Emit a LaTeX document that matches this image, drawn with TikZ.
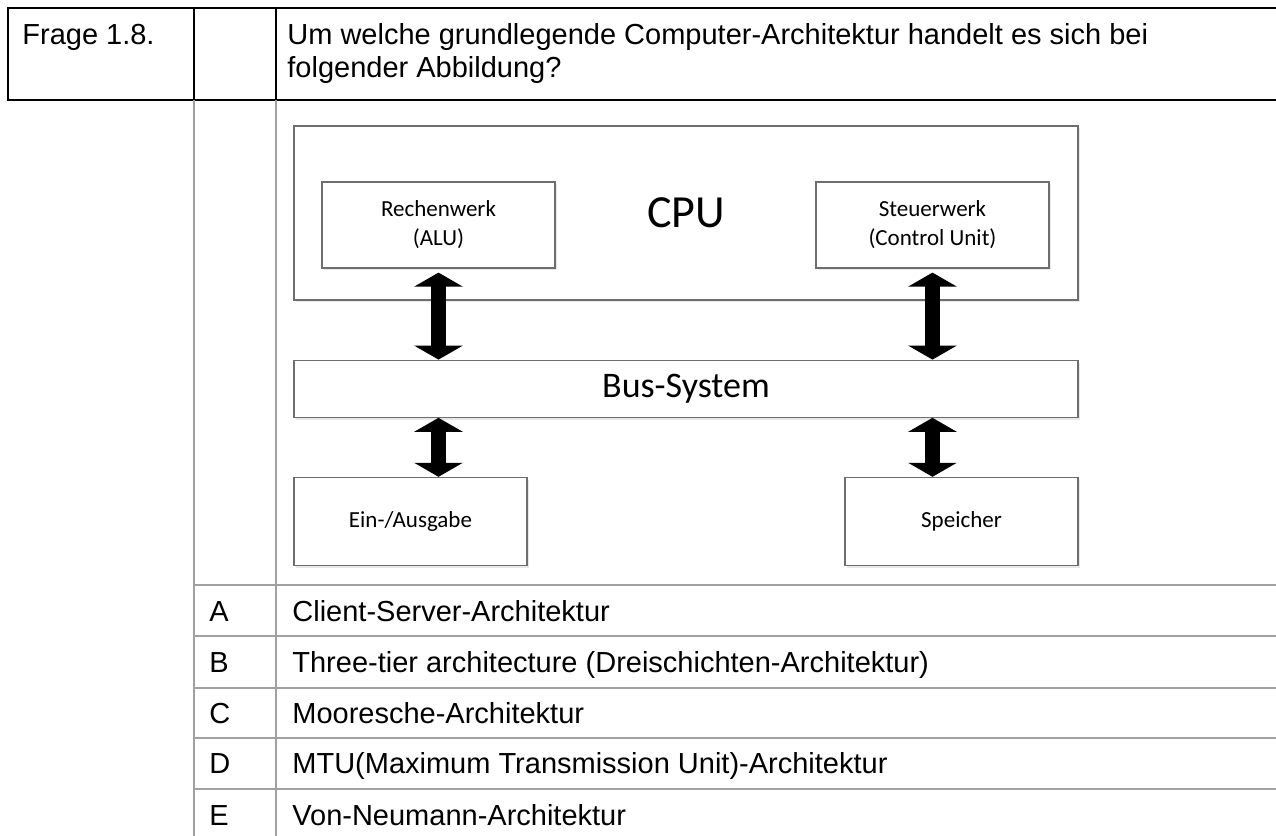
\documentclass[tikz,border=0pt]{standalone}
\usepackage{fontspec}
\setmainfont{Liberation Sans}
\newfontfamily\diagfont{Carlito}
\usetikzlibrary{arrows.meta,positioning,shadows}
\definecolor{boxgray}{HTML}{6E6E6E}
\definecolor{rulegray}{HTML}{A0A0A0}

\begin{document}
\begin{tikzpicture}[
        x=0.5pt, y=-0.5pt,
        unit/.style={draw=boxgray, line width=0.6pt, fill=white, inner sep=0pt, align=center,
            font=\diagfont\fontsize{11.5pt}{14.5pt}\selectfont,
            drop shadow={shadow xshift=1.2pt, shadow yshift=-1.2pt, opacity=0.18}},
        bigunit/.style={unit, minimum width=392pt},
        smallunit/.style={unit, minimum width=116.5pt, minimum height=43pt},
        busarrow/.style={line width=7.5pt, {Triangle[width=24pt,length=7pt]}-{Triangle[width=24pt,length=7pt]}},
        tableframe/.style={line width=1pt},
        tablerule/.style={draw=rulegray, line width=0.75pt},
        cell/.style={anchor=base west, inner sep=0pt, font=\fontsize{14.5pt}{16.5pt}\selectfont}
    ]
    \useasboundingbox (0,0) rectangle (1276,836);

    % question header
    \draw[tableframe] (1276,8) -- (8,8) -- (8,100) -- (1276,100)
        (194,8) -- (194,100) (276,8) -- (276,100);
    \node[cell] (qno) at (22,44) {Frage 1.8.};
    \node[cell, align=left] (question) at (287,77) {Um welche grundlegende Computer-Architektur handelt es sich bei\\folgender Abbildung?};

    % answer grid
    \draw[tablerule] (194,100) -- (194,836) (276,100) -- (276,836);
    \draw[tablerule] (194,585) -- (1276,585) (194,636) -- (1276,636) (194,688) -- (1276,688)
        (194,738) -- (1276,738) (194,789) -- (1276,789);

    % diagram
    \node[bigunit, minimum height=87pt, font=\diagfont\fontsize{23pt}{27pt}\selectfont] (cpu) at (686,213) {CPU};
    \node[smallunit, below right=28pt and 14pt of cpu.north west] (alu) {Rechenwerk\\(ALU)};
    \node[smallunit, below left=28pt and 14.5pt of cpu.north east] (cu) {Steuerwerk\\(Control Unit)};
    \node[bigunit, minimum height=28.5pt, below=29.5pt of cpu, font=\diagfont\fontsize{18pt}{22pt}\selectfont] (bus) {Bus-System};
    \node[smallunit, minimum height=44pt, below right=29.5pt and 0pt of bus.south west] (io) {Ein-/Ausgabe};
    \node[smallunit, minimum height=44pt, below left=29.5pt and 0pt of bus.south east] (mem) {Speicher};

    \draw[busarrow, shorten <=2pt] (alu.south) -- (alu.south |- bus.north);
    \draw[busarrow, shorten <=2pt] (cu.south) -- (cu.south |- bus.north);
    \draw[busarrow] (bus.south -| alu.south) -- (io.north -| alu.south);
    \draw[busarrow] (bus.south -| cu.south) -- (mem.north -| cu.south);

    % answers
    \node[cell] (optA) at (209,621) {A};
    \node[cell] (ansA) at (292,621) {Client-Server-Architektur};
    \node[cell] (optB) at (209,672) {B};
    \node[cell] (ansB) at (292,672) {Three-tier architecture (Dreischichten-Architektur)};
    \node[cell] (optC) at (209,723) {C};
    \node[cell] (ansC) at (292,723) {Mooresche-Architektur};
    \node[cell] (optD) at (209,773) {D};
    \node[cell] (ansD) at (292,773) {MTU(Maximum Transmission Unit)-Architektur};
    \node[cell] (optE) at (209,825) {E};
    \node[cell] (ansE) at (292,825) {Von-Neumann-Architektur};
\end{tikzpicture}
\end{document}
